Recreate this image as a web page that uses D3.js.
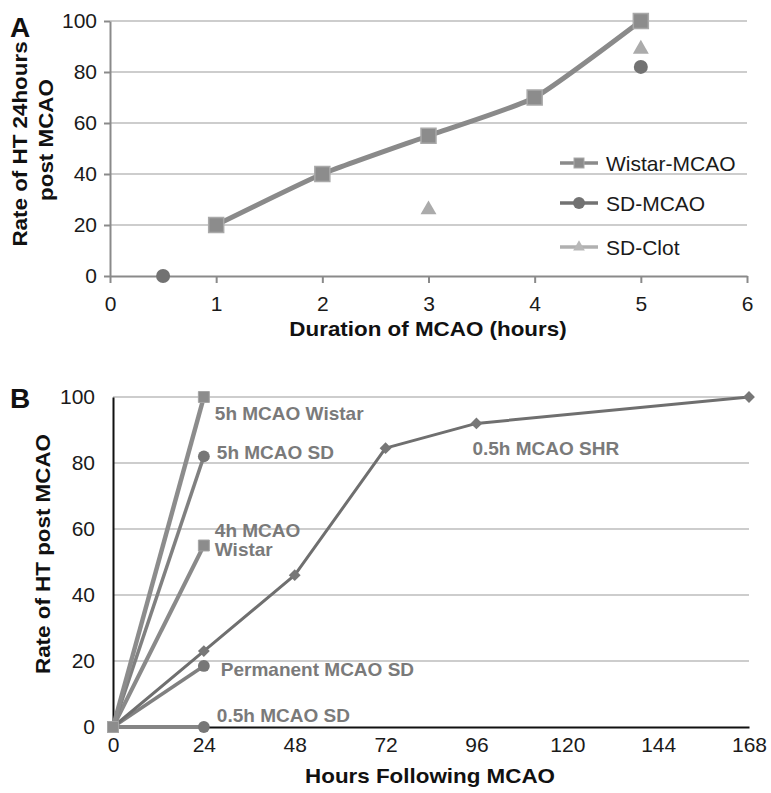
<!DOCTYPE html>
<html><head><meta charset="utf-8">
<script src="https://cdn.jsdelivr.net/npm/d3@7/dist/d3.min.js"></script>
<style>
html,body{margin:0;padding:0;background:#fff;}
svg{display:block;font-family:"Liberation Sans",Arial,sans-serif;}
</style></head>
<body>
<svg id="chart" width="771" height="793"></svg>
<script>
// ---------- DATA ----------
// Panel A: duration of MCAO (hours) vs rate of HT 24 h post MCAO
const aTicksX = [0, 1, 2, 3, 4, 5, 6];
const aTicksY = [0, 20, 40, 60, 80, 100];
const wistarMCAO = [[1, 20], [2, 40], [3, 55], [4, 70], [5, 100]];
const sdMCAO = [[0.5, 0], [5, 82]];
const sdClot = [[3, 26], [5, 89]];
const aLegend = ["Wistar-MCAO", "SD-MCAO", "SD-Clot"];

// Panel B: hours following MCAO vs rate of HT
const bTicksX = [0, 24, 48, 72, 96, 120, 144, 168];
const bTicksY = [0, 20, 40, 60, 80, 100];
const b5hWistar = [[0, 0], [24, 100]];
const b5hSD = [[0, 0], [24, 82]];
const b4hWistar = [[0, 0], [24, 55]];
const bPermSD = [[0, 0], [24, 18.5]];
const b05hSD = [[0, 0], [24, 0]];
const b05hSHR = [[0, 0], [24, 23], [48, 46], [72, 84.5], [96, 92], [168, 100]];
const bNames = ["5h MCAO Wistar", "5h MCAO SD", "4h MCAO Wistar", "Permanent MCAO SD", "0.5h MCAO SD", "0.5h MCAO SHR"];

// ---------- DRAW ----------
const svg = d3.select("#chart");
const grid = "#bdbdbd";
const fmt = d3.format("d");

// ===== Panel A =====
const xA = d3.scaleLinear().domain([0, 6]).range([110, 747]);
const yA = d3.scaleLinear().domain([0, 100]).range([276, 21]);
const gA = svg.append("g");

gA.selectAll("line.grid").data(aTicksY.filter(d => d > 0)).join("line")
  .attr("x1", xA(0)).attr("x2", xA(6))
  .attr("y1", d => yA(d)).attr("y2", d => yA(d))
  .attr("stroke", grid).attr("stroke-width", 1.6);

const axA_x = gA.append("g").attr("transform", `translate(0,${yA(0)})`)
  .call(d3.axisBottom(xA).tickValues(aTicksX).tickFormat(fmt).tickSize(7).tickPadding(13).tickSizeOuter(0));
const axA_y = gA.append("g").attr("transform", `translate(${xA(0)},0)`)
  .call(d3.axisLeft(yA).tickValues(aTicksY).tickFormat(fmt).tickSize(6).tickPadding(7).tickSizeOuter(0));
[axA_x, axA_y].forEach(ax => {
  ax.select(".domain").attr("stroke", "#8a8a8a").attr("stroke-width", 2);
  ax.selectAll(".tick line").attr("stroke", "#8a8a8a").attr("stroke-width", 2);
  ax.selectAll(".tick text").attr("font-size", 21).attr("fill", "#1a1a1a")
    .attr("font-family", "Liberation Sans, Arial, sans-serif");
});

// Wistar line (smoothed)
const lineA = d3.line().x(d => xA(d[0])).y(d => yA(d[1])).curve(d3.curveCardinal.tension(0.5));
gA.append("path").datum(wistarMCAO).attr("d", lineA)
  .attr("fill", "none").attr("stroke", "#8a8a8a").attr("stroke-width", 5).attr("stroke-linejoin", "round");

const sq = 15;
gA.selectAll("rect.w").data(wistarMCAO).join("rect")
  .attr("x", d => xA(d[0]) - sq / 2).attr("y", d => yA(d[1]) - sq / 2)
  .attr("width", sq).attr("height", sq)
  .attr("fill", "#8c8c8c").attr("stroke", "#a9a9a9").attr("stroke-width", 1.5);

gA.selectAll("circle.sd").data(sdMCAO).join("circle")
  .attr("cx", d => xA(d[0])).attr("cy", d => yA(d[1])).attr("r", 7)
  .attr("fill", "#727272");

const tri = d3.symbol().type(d3.symbolTriangle).size(110);
gA.selectAll("path.clot").data(sdClot).join("path")
  .attr("d", tri).attr("transform", d => `translate(${xA(d[0])},${yA(d[1])})`)
  .attr("fill", "#ababab");

// legend
const legY = [163, 203, 247];
const legG = gA.append("g");
aLegend.forEach((name, i) => {
  const y = legY[i];
  const col = ["#8a8a8a", "#727272", "#b0b0b0"][i];
  legG.append("line").attr("x1", 560).attr("x2", 598).attr("y1", y).attr("y2", y)
    .attr("stroke", col).attr("stroke-width", 3.5);
  if (i === 0) legG.append("rect").attr("x", 574).attr("y", y - 5).attr("width", 10).attr("height", 10)
    .attr("fill", "#8c8c8c").attr("stroke", "#a9a9a9");
  if (i === 1) legG.append("circle").attr("cx", 579).attr("cy", y).attr("r", 6).attr("fill", "#727272");
  if (i === 2) legG.append("path").attr("d", d3.symbol().type(d3.symbolTriangle).size(60))
    .attr("transform", `translate(579,${y})`).attr("fill", "#b8b8b8");
  legG.append("text").attr("x", 606).attr("y", y).attr("dy", "0.36em")
    .attr("font-size", 21).attr("fill", "#1a1a1a").text(name);
});

// titles
svg.append("text").attr("x", 10).attr("y", 37).attr("font-size", 28).attr("font-weight", "bold")
  .attr("fill", "#111").text("A");
function boldTitle(g, x, y, rot, txt) {
  return g.append("text")
    .attr("transform", `translate(${x},${y}) rotate(${rot}) scale(1.12,1)`)
    .attr("text-anchor", "middle").attr("font-size", 20).attr("font-weight", "bold")
    .attr("fill", "#111").text(txt);
}
boldTitle(svg, 428, 336, 0, "Duration of MCAO (hours)");
boldTitle(svg, 27, 144, -90, "Rate of HT 24hours");
boldTitle(svg, 53, 140, -90, "post MCAO");

// ===== Panel B =====
const xB = d3.scaleLinear().domain([0, 168]).range([113, 749]);
const yB = d3.scaleLinear().domain([0, 100]).range([727, 397]);
const gB = svg.append("g");

gB.selectAll("line.grid").data(bTicksY.filter(d => d > 0)).join("line")
  .attr("x1", xB(0)).attr("x2", xB(168))
  .attr("y1", d => yB(d)).attr("y2", d => yB(d))
  .attr("stroke", grid).attr("stroke-width", 1.6);

const axB_x = gB.append("g").attr("transform", `translate(0,${yB(0)})`)
  .call(d3.axisBottom(xB).tickValues(bTicksX).tickFormat(fmt).tickSize(0).tickPadding(10).tickSizeOuter(0));
const axB_y = gB.append("g").attr("transform", `translate(${xB(0)},0)`)
  .call(d3.axisLeft(yB).tickValues(bTicksY).tickFormat(fmt).tickSize(0).tickPadding(18).tickSizeOuter(0));
[axB_x, axB_y].forEach(ax => {
  ax.select(".domain").attr("stroke", "#111").attr("stroke-width", 2);
  ax.selectAll(".tick text").attr("font-size", 21).attr("fill", "#1a1a1a")
    .attr("font-family", "Liberation Sans, Arial, sans-serif");
});

const lineB = d3.line().x(d => xB(d[0])).y(d => yB(d[1]));
const bSeries = [
  { data: b05hSD, marker: "circle", w: 4, col: "#858585" },
  { data: bPermSD, marker: "circle", w: 3.5, col: "#808080" },
  { data: b05hSHR, marker: "diamond", w: 3, col: "#6f6f6f" },
  { data: b4hWistar, marker: "square", w: 4, col: "#8a8a8a" },
  { data: b5hSD, marker: "circle", w: 3.5, col: "#808080" },
  { data: b5hWistar, marker: "square", w: 4.5, col: "#8c8c8c" }
];
bSeries.forEach(s => {
  gB.append("path").datum(s.data).attr("d", lineB).attr("fill", "none")
    .attr("stroke", s.col).attr("stroke-width", s.w).attr("stroke-linejoin", "round");
  const m = gB.selectAll(null).data(s.data).join("path")
    .attr("transform", d => `translate(${xB(d[0])},${yB(d[1])})` + (s.marker === "diamond" ? " rotate(45)" : ""))
    .attr("fill", s.marker === "diamond" ? "#777" : (s.marker === "circle" ? "#777" : "#8c8c8c"));
  if (s.marker === "circle") m.attr("d", d3.symbol().type(d3.symbolCircle).size(110));
  else if (s.marker === "square") m.attr("d", d3.symbol().type(d3.symbolSquare).size(120)).attr("stroke", "#a5a5a5");
  else m.attr("d", d3.symbol().type(d3.symbolSquare).size(70));
});

// series labels
const labelStyle = { size: 19, col: "#7a7a7a" };
const bLabelPos = [
  { name: bNames[0], p: b5hWistar[1], dx: 11, dy: 23 },
  { name: bNames[1], p: b5hSD[1], dx: 13, dy: 3 },
  { name: "4h MCAO", p: b4hWistar[1], dx: 11, dy: -9 },
  { name: "Wistar", p: b4hWistar[1], dx: 11, dy: 10 },
  { name: bNames[3], p: bPermSD[1], dx: 17, dy: 10 },
  { name: bNames[4], p: b05hSD[1], dx: 13, dy: -5 },
  { name: bNames[5], p: b05hSHR[4], dx: -4, dy: 32 }
];
bLabelPos.forEach(l => {
  gB.append("text").attr("x", xB(l.p[0]) + l.dx).attr("y", yB(l.p[1]) + l.dy)
    .attr("font-size", labelStyle.size).attr("font-weight", "bold").attr("fill", labelStyle.col)
    .text(l.name);
});

svg.append("text").attr("x", 10).attr("y", 408).attr("font-size", 28).attr("font-weight", "bold")
  .attr("fill", "#111").text("B");
boldTitle(svg, 430, 783, 0, "Hours Following MCAO");
boldTitle(svg, 50, 554, -90, "Rate of HT post MCAO");
</script>
</body></html>
